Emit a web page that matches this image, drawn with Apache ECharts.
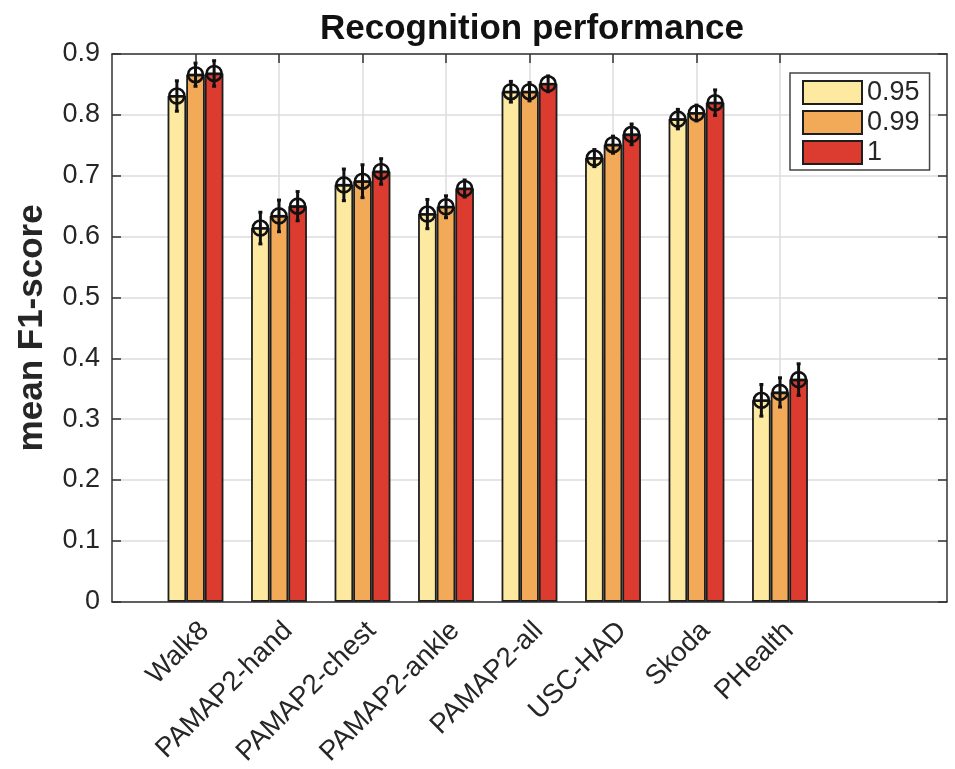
<!DOCTYPE html>
<html>
<head>
<meta charset="utf-8">
<script src="https://cdn.jsdelivr.net/npm/echarts@6/dist/echarts.min.js"></script>
<style>html,body{margin:0;padding:0;background:#fff;}#c{width:955px;height:769px;}</style>
</head>
<body>
<div id="c"></div>
<script>
const categories = ['Walk8','PAMAP2-hand','PAMAP2-chest','PAMAP2-ankle','PAMAP2-all','USC-HAD','Skoda','PHealth'];
const seriesNames = ['0.95','0.99','1'];
const mean095 = [0.831,0.614,0.685,0.637,0.838,0.729,0.793,0.331];
const mean099 = [0.866,0.634,0.691,0.649,0.838,0.751,0.803,0.344];
const mean100 = [0.868,0.650,0.707,0.679,0.851,0.768,0.820,0.365];
const err095 = [0.025,0.026,0.026,0.024,0.017,0.014,0.016,0.026];
const err099 = [0.019,0.026,0.027,0.018,0.015,0.014,0.013,0.024];
const err100 = [0.021,0.024,0.021,0.014,0.013,0.017,0.021,0.026];
const yTicks = [0,0.1,0.2,0.3,0.4,0.5,0.6,0.7,0.8,0.9];

const colors = ['#FDE9A0','#F2AA58','#DB3C2F'];
const means = [mean095, mean099, mean100];
const errs = [err095, err099, err100];
const xPos = categories.map((c,i)=>i+1);
const barFrac = 0.223;
const txt = '#262626';
const ff = '"Liberation Sans", Arial, Helvetica, sans-serif';

const chart = echarts.init(document.getElementById('c'));
const series = [];
means.forEach((m,s)=>{
  series.push({
    name: seriesNames[s], type:'bar', xAxisIndex:0, yAxisIndex:0,
    barWidth: (barFrac*100)+'%', barGap:'0%',
    itemStyle:{color:colors[s], borderColor:'#1e1e1e', borderWidth:1.8},
    data: m.map((v,i)=>[xPos[i], v]),
    z:2
  });
});
means.forEach((m,s)=>{
  const off = (s-1)*barFrac;
  series.push({
    type:'custom', xAxisIndex:0, yAxisIndex:0, z:5, silent:true,
    data: m.map((v,i)=>[xPos[i], v, errs[s][i]]),
    renderItem:(params, api)=>{
      const x = api.value(0)+off, v = api.value(1), e = api.value(2);
      const t = api.coord([x, v+e]), b = api.coord([x, v-e]), c = api.coord([x, v]);
      const r = 7.5, cap = 2;
      const st = {stroke:'#111', lineWidth:3, fill:null};
      return {type:'group', children:[
        {type:'line', shape:{x1:t[0],y1:t[1],x2:b[0],y2:b[1]}, style:st},
        {type:'line', shape:{x1:t[0]-cap,y1:t[1],x2:t[0]+cap,y2:t[1]}, style:st},
        {type:'line', shape:{x1:b[0]-cap,y1:b[1],x2:b[0]+cap,y2:b[1]}, style:st},
        {type:'circle', shape:{cx:c[0],cy:c[1],r:r}, style:{stroke:'#111', lineWidth:2.6, fill:null}},
        {type:'line', shape:{x1:c[0]-r,y1:c[1],x2:c[0]+r,y2:c[1]}, style:{stroke:'#111', lineWidth:2}}
      ]};
    }
  });
});

chart.setOption({
  backgroundColor:'#fff',
  animation:false,
  textStyle:{fontFamily:ff},
  title:{text:'Recognition performance', left:527, textAlign:'center', top:7,
    textStyle:{fontSize:35, fontWeight:'bold', color:'#111', fontFamily:ff}},
  legend:{
    left:790, top:73, orient:'vertical', icon:'rect',
    itemWidth:59, itemHeight:23, itemGap:3,
    padding:[6,10,4,12], borderColor:'#444', borderWidth:1.5, backgroundColor:'#fff',
    textStyle:{fontSize:27, color:txt, lineHeight:23, fontFamily:ff},
    data: seriesNames
  },
  grid:{left:112, right:8, top:54, bottom:165, containLabel:false},
  xAxis:[{
    type:'value', min:0, max:10, interval:1, position:'bottom',
    axisLine:{show:true, onZero:false, lineStyle:{color:'#333', width:1.5}},
    axisTick:{show:true, inside:true, length:9, customValues:xPos, lineStyle:{color:'#333', width:1.5}},
    axisLabel:{show:true, customValues:xPos, rotate:45, margin:34, padding:[0,-13,0,0],
      fontSize:27.5, color:txt, fontFamily:ff,
      formatter:(v)=>categories[Math.round(v)-1] || ''},
    splitLine:{show:true, lineStyle:{color:'#DCDCDC', width:1.5}}
  },{
    type:'value', min:0, max:10, interval:1, position:'top',
    axisLine:{show:true, onZero:false, lineStyle:{color:'#333', width:1.5}},
    axisTick:{show:true, inside:true, length:9, customValues:xPos, lineStyle:{color:'#333', width:1.5}},
    axisLabel:{show:false}, splitLine:{show:false}
  }],
  yAxis:[{
    type:'value', min:0, max:0.9, interval:0.1, position:'left',
    name:'mean F1-score', nameLocation:'middle', nameGap:62, nameRotate:90,
    nameTextStyle:{fontSize:35, fontWeight:'bold', color:txt, fontFamily:ff},
    axisLine:{show:true, onZero:false, lineStyle:{color:'#333', width:1.5}},
    axisTick:{show:true, inside:true, length:9, lineStyle:{color:'#333', width:1.5}},
    axisLabel:{fontSize:27, color:txt, margin:12, fontFamily:ff},
    splitLine:{show:true, lineStyle:{color:'#DCDCDC', width:1.5}}
  },{
    type:'value', min:0, max:0.9, interval:0.1, position:'right',
    axisLine:{show:true, onZero:false, lineStyle:{color:'#333', width:1.5}},
    axisTick:{show:true, inside:true, length:9, lineStyle:{color:'#333', width:1.5}},
    axisLabel:{show:false}, splitLine:{show:false}
  }],
  series: series
});
</script>
</body>
</html>
